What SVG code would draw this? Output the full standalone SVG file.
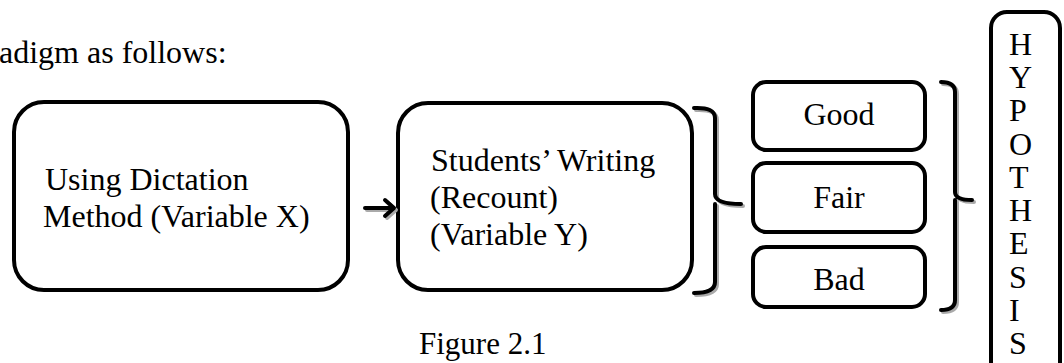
<svg xmlns="http://www.w3.org/2000/svg" width="1064" height="363" viewBox="0 0 1064 363">
<style>
text{font-family:"Liberation Serif","Times New Roman",serif;font-size:32px;fill:#000}
.box{fill:#fff;stroke:#000;stroke-width:4}
.line{fill:none;stroke:#000;stroke-width:4;stroke-linecap:round;stroke-linejoin:round}
.shadow{fill:none;stroke:#aaa;stroke-width:4;stroke-linecap:round;stroke-linejoin:round}
.mid{text-anchor:middle}
</style>
<rect width="1064" height="363" fill="#fff"/>
<text x="-1" y="63">adigm as follows:</text>
<g id="node-x">
<rect class="box" x="14" y="102" width="334" height="188" rx="30"/>
<text x="45" y="190">Using Dictation</text>
<text x="43" y="227">Method (Variable X)</text>
</g>
<g id="node-y">
<rect class="box" x="398" y="103" width="294" height="187" rx="30"/>
<text x="431" y="171">Students’ Writing</text>
<text x="430" y="208">(Recount)</text>
<text x="430" y="245">(Variable Y)</text>
</g>
<g id="node-good">
<rect class="box" x="753" y="82" width="172" height="68" rx="13"/>
<text class="mid" x="839" y="125">Good</text>
</g>
<g id="node-fair">
<rect class="box" x="753" y="163" width="172" height="69" rx="13"/>
<text class="mid" x="839" y="208">Fair</text>
</g>
<g id="node-bad">
<rect class="box" x="753" y="247" width="172" height="60" rx="13"/>
<text class="mid" x="839" y="290">Bad</text>
</g>
<g id="node-hypothesis">
<rect class="box" x="991" y="12" width="69" height="380" rx="16"/>
<text x="1009" y="55">H</text>
<text x="1009" y="88">Y</text>
<text x="1009" y="121">P</text>
<text x="1009" y="155">O</text>
<text x="1009" y="188">T</text>
<text x="1009" y="221">H</text>
<text x="1009" y="254">E</text>
<text x="1009" y="288">S</text>
<text x="1009" y="321">I</text>
<text x="1009" y="354">S</text>
</g>
<g id="connectors">
<g transform="translate(2,2)">
<path class="shadow" d="M365,208 H393 M385,200 L394,208 L385,216"/>
<path class="shadow" d="M694,108 Q715,107 715,118 V194 Q715,204 741,204 M715,204 Q715,214 715,224 V282 Q715,293 694,293"/>
<path class="shadow" d="M941,82 Q955,82 955,92 V192 Q955,200 972,200 M955,200 Q955,208 955,216 V300 Q955,310 941,310"/>
</g>
<path class="line" d="M365,208 H393 M385,200 L394,208 L385,216"/>
<path class="line" d="M694,108 Q715,107 715,118 V194 Q715,204 741,204 M715,204 Q715,214 715,224 V282 Q715,293 694,293"/>
<path class="line" d="M941,82 Q955,82 955,92 V192 Q955,200 972,200 M955,200 Q955,208 955,216 V300 Q955,310 941,310"/>
</g>
<text x="419" y="354" style="font-size:31px">Figure 2.1</text>
</svg>
